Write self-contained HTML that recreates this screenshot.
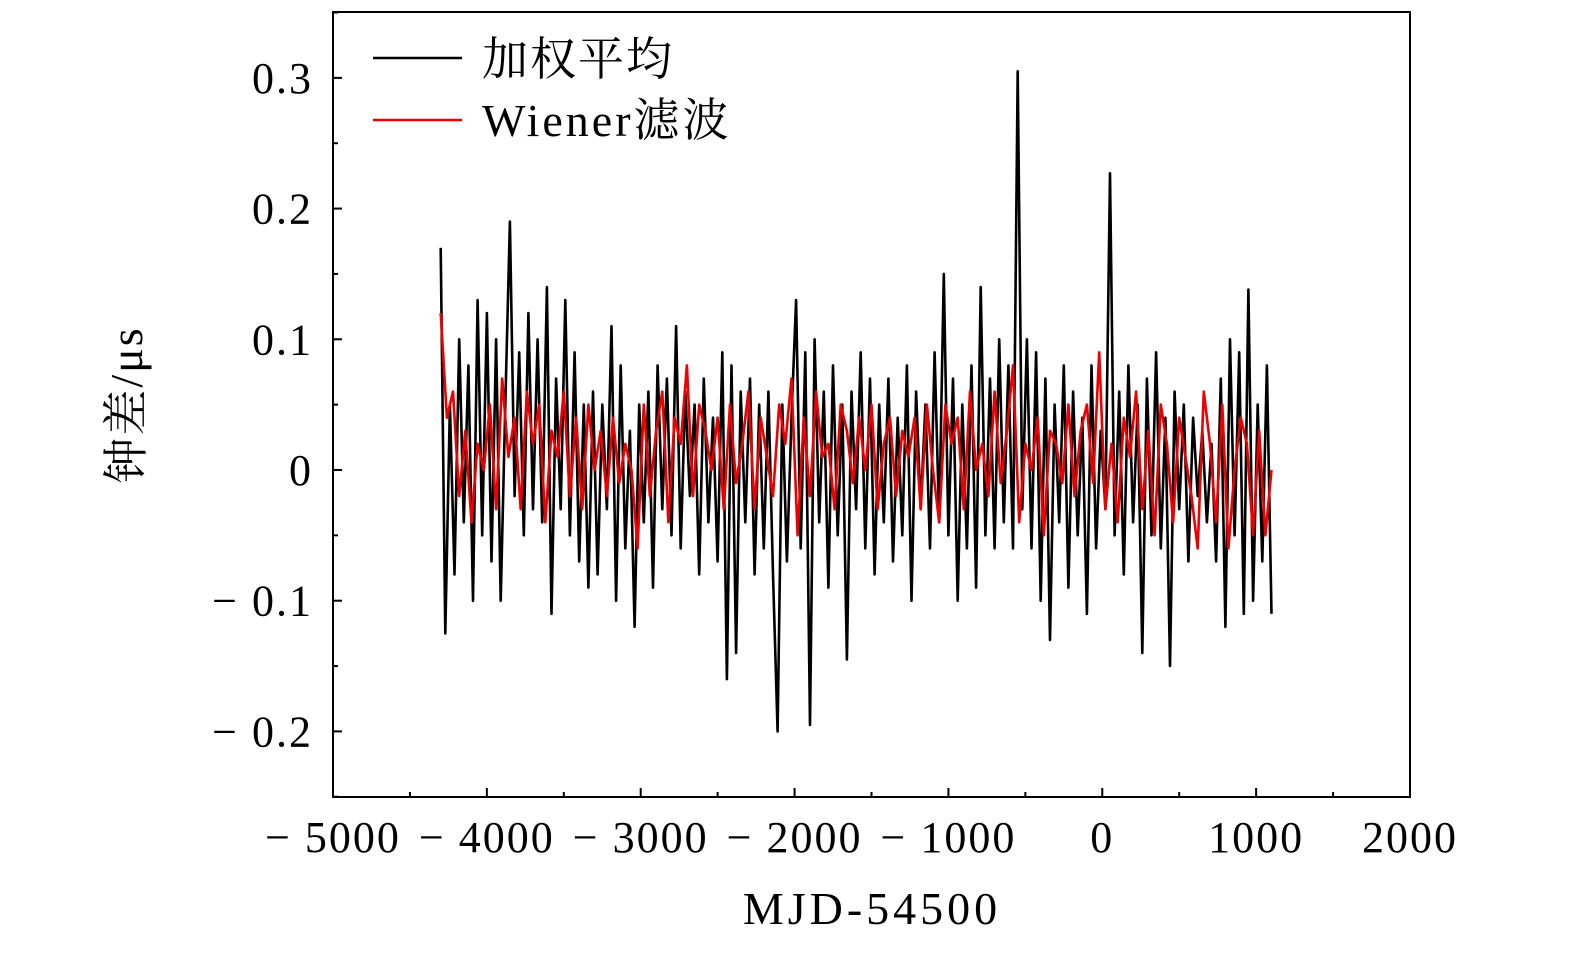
<!DOCTYPE html>
<html><head><meta charset="utf-8">
<style>
html,body{margin:0;padding:0;background:#fff;}
svg{display:block;}
text{font-family:"Liberation Serif","Noto Serif CJK SC",serif;fill:#000;}
</style></head>
<body>
<svg id="chart" width="1575" height="955" viewBox="0 0 1575 955" xmlns="http://www.w3.org/2000/svg">
<g id="plot"></g>
<g id="axes"></g>
<g>
  <line x1="373" y1="58" x2="462" y2="58" stroke="#000" stroke-width="2.5"/>
  <text x="482" y="75" font-size="46" letter-spacing="2">加权平均</text>
  <line x1="373" y1="120" x2="462" y2="120" stroke="#e00" stroke-width="2.5"/>
  <text x="482" y="136" font-size="46" letter-spacing="3">Wiener滤波</text>
</g>
<text x="872" y="924" font-size="46" letter-spacing="4" text-anchor="middle">MJD-54500</text>
<text transform="translate(142,405) rotate(-90)" font-size="46" letter-spacing="2" text-anchor="middle">钟差/μs</text>
</svg>
<script>
const xTicks=[-5000,-4000,-3000,-2000,-1000,0,1000,2000];
const xTickLabels=["\u2212 5000","\u2212 4000","\u2212 3000","\u2212 2000","\u2212 1000","0","1000","2000"];
const yTicks=[-0.2,-0.1,0,0.1,0.2,0.3];
const yTickLabels=["\u2212 0.2","\u2212 0.1","0","0.1","0.2","0.3"];
const xStart=-4300, xEnd=1100;
const weighted=[0.17,-0.125,0.05,-0.08,0.10,-0.04,0.08,-0.10,0.13,-0.05,0.12,-0.07,0.10,-0.10,0.05,0.19,-0.02,0.09,-0.05,0.12,-0.03,0.10,-0.04,0.14,-0.11,0.07,-0.03,0.13,-0.05,0.09,-0.07,0.05,-0.09,0.06,-0.08,0.05,-0.03,0.11,-0.10,0.08,-0.06,0.03,-0.12,0.05,-0.04,0.06,-0.09,0.08,-0.03,0.07,-0.05,0.11,-0.06,0.06,-0.02,0.05,-0.08,0.07,-0.04,0.04,-0.07,0.09,-0.16,0.08,-0.14,0.06,-0.04,0.07,-0.08,0.05,-0.06,0.06,-0.08,-0.20,0.05,-0.07,0.04,0.13,-0.06,0.09,-0.195,0.10,-0.04,0.06,-0.09,0.08,-0.05,0.05,-0.145,0.06,-0.03,0.09,-0.06,0.07,-0.08,0.05,-0.04,0.07,-0.07,0.04,-0.05,0.08,-0.10,0.06,-0.03,0.05,-0.06,0.09,-0.04,0.15,-0.05,0.07,-0.10,0.05,-0.06,0.08,-0.09,0.14,-0.05,0.07,-0.06,0.10,-0.04,0.08,-0.06,0.305,-0.03,0.10,-0.06,0.09,-0.10,0.07,-0.13,0.05,-0.04,0.08,-0.09,0.06,-0.05,0.04,-0.11,0.08,-0.06,0.03,-0.03,0.227,-0.05,0.06,-0.08,0.08,-0.04,0.05,-0.14,0.07,-0.05,0.09,-0.06,0.04,-0.15,0.06,-0.03,0.05,-0.07,0.04,-0.02,0.03,-0.04,0.02,-0.07,0.07,-0.12,0.10,-0.05,0.09,-0.11,0.138,-0.10,0.05,-0.07,0.08,-0.11];
const wiener=[0.12,0.04,0.06,-0.02,0.03,-0.04,0.02,0.00,0.05,-0.03,0.07,0.01,0.04,-0.03,0.06,0.02,0.05,-0.04,0.03,0.01,0.06,-0.02,0.04,-0.03,0.05,0.00,0.03,-0.02,0.04,-0.01,0.02,0.00,-0.06,0.05,-0.02,0.03,0.06,-0.04,0.04,0.02,0.08,-0.02,0.05,0.03,0.00,0.04,-0.03,0.05,-0.01,0.02,0.06,-0.03,0.04,0.01,-0.02,0.05,0.02,0.07,-0.05,0.04,-0.02,0.06,0.01,0.02,-0.03,0.05,0.03,-0.01,0.04,0.00,0.05,-0.03,0.02,0.04,-0.02,0.03,0.01,0.04,-0.03,0.05,0.00,-0.04,0.05,0.02,0.04,-0.03,0.06,0.00,0.02,-0.02,0.06,-0.01,0.03,0.08,-0.04,0.02,0.00,0.04,-0.05,0.03,0.02,-0.01,0.05,-0.02,0.03,0.05,-0.01,0.09,-0.03,0.02,-0.04,0.04,0.01,0.06,-0.03,0.03,-0.05,0.05,0.02,-0.04,0.04,0.01,-0.02,-0.06,0.06,0.02,-0.04,0.05,-0.06,0.00,0.04,0.02,-0.05,0.03,-0.05,0.00];
const NS="http://www.w3.org/2000/svg";
const L=333,R=1410,T=12,B=797,xmin=-5000,xmax=2000,ymin=-0.2502,ymax=0.3504;
const xs=v=>L+(v-xmin)/(xmax-xmin)*(R-L);
const ys=v=>B-(v-ymin)/(ymax-ymin)*(B-T);
function mk(tag,attrs,parent){const e=document.createElementNS(NS,tag);for(const k in attrs)e.setAttribute(k,attrs[k]);parent.appendChild(e);return e;}
const plot=document.getElementById('plot'),axes=document.getElementById('axes');
function series(vals,color,name){
  const n=vals.length;let d='';
  vals.forEach((v,i)=>{const x=xStart+(xEnd-xStart)*i/(n-1);d+=(i?'L':'M')+xs(x).toFixed(1)+','+ys(v).toFixed(1);});
  const p=mk('path',{d:d,fill:'none',stroke:color,'stroke-width':2.6,'stroke-linejoin':'round'},plot);
  
  
}
series(weighted,'#000','series-weighted-average');
series(wiener,'#e00','series-wiener-filter');
const frame=mk('rect',{x:L,y:T,width:R-L,height:B-T,fill:'none',stroke:'#000','stroke-width':2},axes);


xTicks.forEach((t,i)=>{
  const x=xs(t);
  const tk=mk('line',{x1:x,y1:B,x2:x,y2:B-9,stroke:'#000','stroke-width':2},axes);
  
  
  if(i<xTicks.length-1){const xm=xs(t+500);const m=mk('line',{x1:xm,y1:B,x2:xm,y2:B-5,stroke:'#000','stroke-width':2},axes);
  
  }
  const lb=mk('text',{x:x,y:852,'font-size':44,'letter-spacing':2,'text-anchor':'middle'},axes);lb.textContent=xTickLabels[i];
  
  
});
yTicks.forEach((t,i)=>{
  const y=ys(t);
  const tk=mk('line',{x1:L,y1:y,x2:L+9,y2:y,stroke:'#000','stroke-width':2},axes);
  
  
  const lb=mk('text',{x:313,y:y+15,'font-size':44,'letter-spacing':2,'text-anchor':'end'},axes);lb.textContent=yTickLabels[i];
  
  
});
[-0.25,-0.15,-0.05,0.05,0.15,0.25,0.35].forEach(t=>{
  const y=ys(t);
  const m=mk('line',{x1:L,y1:y,x2:L+5,y2:y,stroke:'#000','stroke-width':2},axes);
  
  
});
</script>
</body></html>
